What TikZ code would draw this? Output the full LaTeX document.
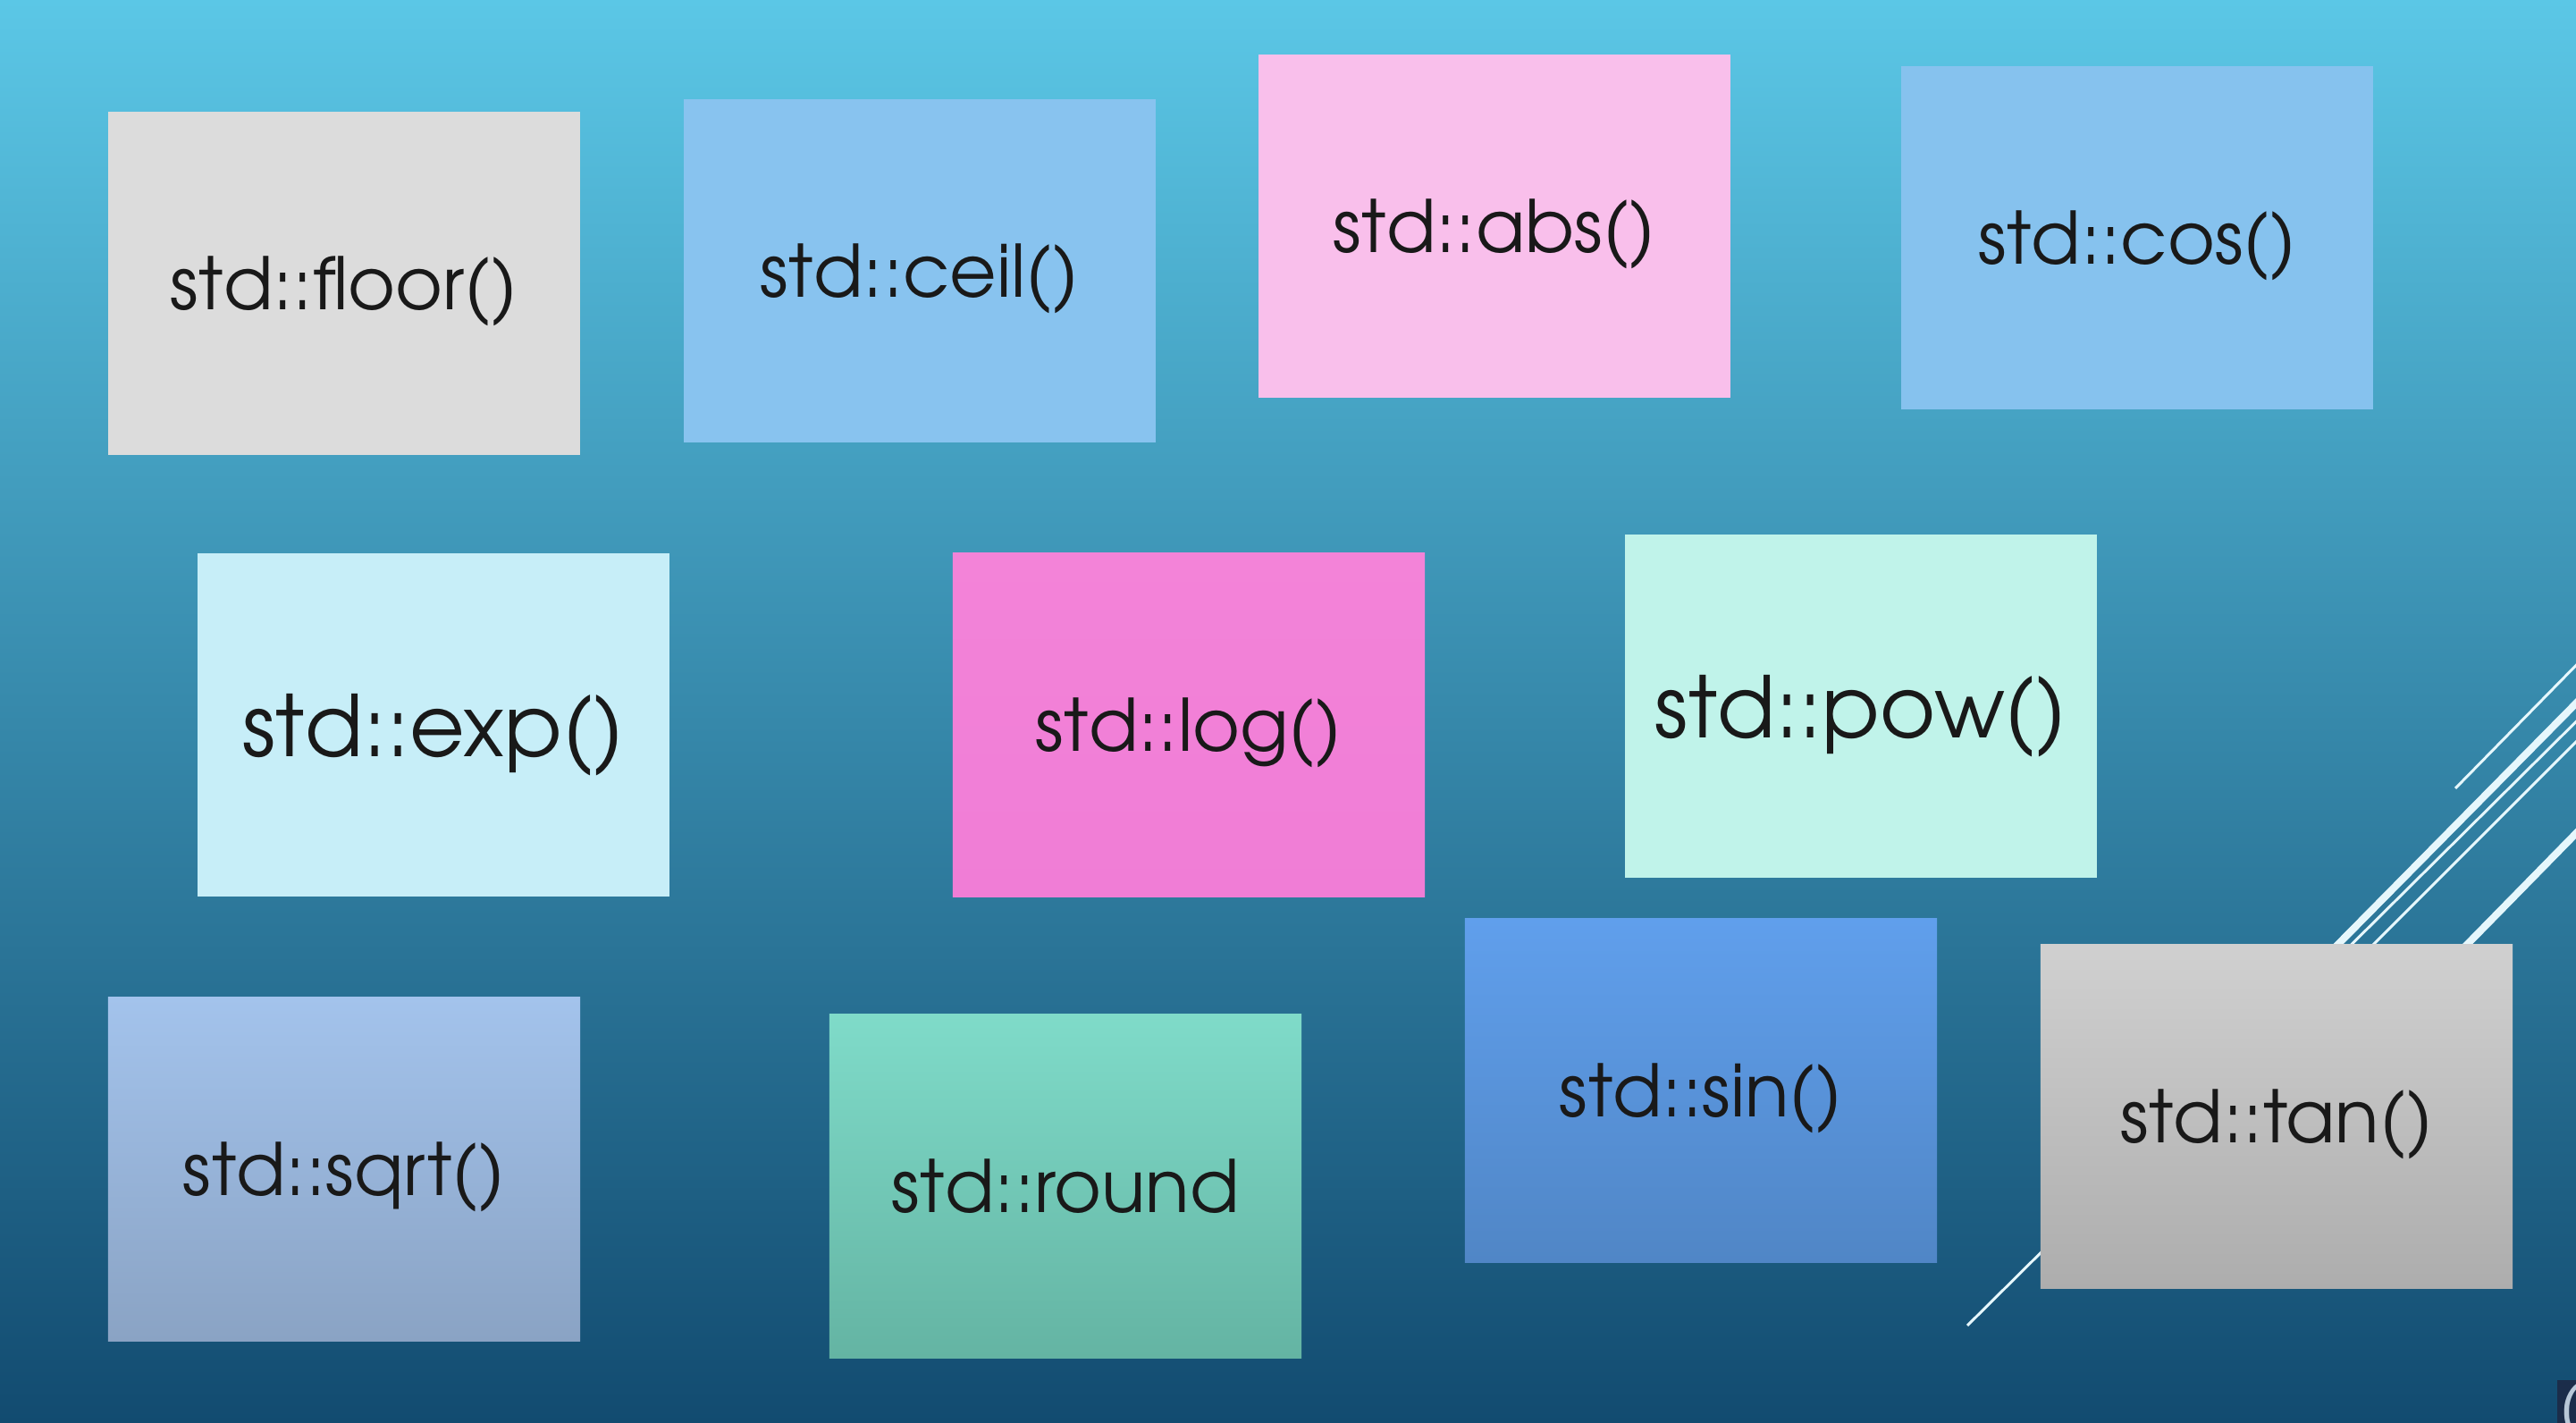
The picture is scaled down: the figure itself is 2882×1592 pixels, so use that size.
\documentclass[tikz,border=0pt]{standalone}
\usepackage{fontspec}
\setmainfont{TeX Gyre Adventor}
\definecolor{bgtop}{HTML}{5BC7E6}
\definecolor{bgmid}{HTML}{3797C3}
\definecolor{bgbot}{HTML}{124B70}
\definecolor{slicewhite}{HTML}{E6F7FC}
\definecolor{floorgray}{HTML}{DCDCDC}
\definecolor{ceilblue}{HTML}{88C3EF}
\definecolor{abspink}{HTML}{F9BFEB}
\definecolor{cosblue}{HTML}{86C2EE}
\definecolor{expcyan}{HTML}{C7EEF8}
\definecolor{logtop}{HTML}{F383D8}
\definecolor{logbot}{HTML}{F07DD6}
\definecolor{powmint}{HTML}{C0F3EA}
\definecolor{sqrttop}{HTML}{A3C3EC}
\definecolor{sqrtbot}{HTML}{8AA3C4}
\definecolor{roundtop}{HTML}{7FDBC9}
\definecolor{roundbot}{HTML}{64B4A3}
\definecolor{sintop}{HTML}{609FEC}
\definecolor{sinbot}{HTML}{5086C6}
\definecolor{tantop}{HTML}{D0D0D0}
\definecolor{tanbot}{HTML}{ADADAD}
\definecolor{cornerdark}{HTML}{1B2D4A}
\definecolor{cornertext}{HTML}{B8C8D8}
\begin{document}
\begin{tikzpicture}[x=0.01cm,y=-0.01cm,
  fnbox/.style={rectangle,minimum width=5.28cm,minimum height=3.84cm,inner sep=0pt,
    text depth=0pt,text=black!90,font=\fontsize{23}{28}\selectfont},
  bigtext/.style={font=\fontsize{27}{32}\selectfont},
  thinslice/.style={draw=slicewhite,line width=0.85pt},
  thickslice/.style={draw=slicewhite,line width=2.3pt}]
\useasboundingbox (0,0) rectangle (2882,1592);
\shade[top color=bgtop,middle color=bgmid,bottom color=bgbot] (0,0) rectangle (2882,1592);
% slice lines, partly behind the tan box
\begin{scope}
  \clip (0,0) rectangle (2882,1592);
  \coordinate (a0) at (2747,882);   \coordinate (a1) at (2950,675);
  \coordinate (b0) at (2400,1275);  \coordinate (b1) at (2950,718);
  \coordinate (p0) at (2201,1483);  \coordinate (p1) at (2950,740);
  \coordinate (c0) at (2450,1262);  \coordinate (c1) at (2950,762);
  \coordinate (d0) at (2600,1220);  \coordinate (d1) at (2950,863);
  \draw[thinslice] (a0) -- (a1);
  \draw[thickslice] (b0) -- (b1);
  \draw[thinslice] (p0) -- (p1);
  \draw[thinslice] (c0) -- (c1);
  \draw[thickslice] (d0) -- (d1);
\end{scope}
% top row
\node[fnbox,fill=floorgray] (floor) at (385,317) {std::floor()};
\node[fnbox,fill=ceilblue] (ceil) at (1029,303) {std::ceil()};
\node[fnbox,fill=abspink] (abs) at (1672,253) {std::abs()};
\node[fnbox,fill=cosblue] (cos) at (2391,266) {std::cos()};
% middle row
\node[fnbox,bigtext,fill=expcyan] (exp) at (485,811) {std::exp()};
\node[fnbox,top color=logtop,bottom color=logbot] (log) at (1330,811) {std::log()};
\node[fnbox,bigtext,fill=powmint] (pow) at (2082,790) {std::pow()};
% bottom row
\node[fnbox,top color=sqrttop,bottom color=sqrtbot] (sqrt) at (385,1308) {std::sqrt()};
\node[fnbox,top color=roundtop,bottom color=roundbot] (round) at (1192,1327) {std::round};
\node[fnbox,top color=sintop,bottom color=sinbot] (sin) at (1903,1220) {std::sin()};
\node[fnbox,top color=tantop,bottom color=tanbot] (tan) at (2547,1249) {std::tan()};
% corner overlay
\begin{scope}
  \clip (0,0) rectangle (2882,1592);
  \fill[cornerdark] (2861,1544) rectangle (2900,1600);
  \node[anchor=north west,inner sep=0pt,text=cornertext,
    font=\fontsize{20}{20}\selectfont] (corner) at (2863,1546) {(};
\end{scope}
\end{tikzpicture}
\end{document}
